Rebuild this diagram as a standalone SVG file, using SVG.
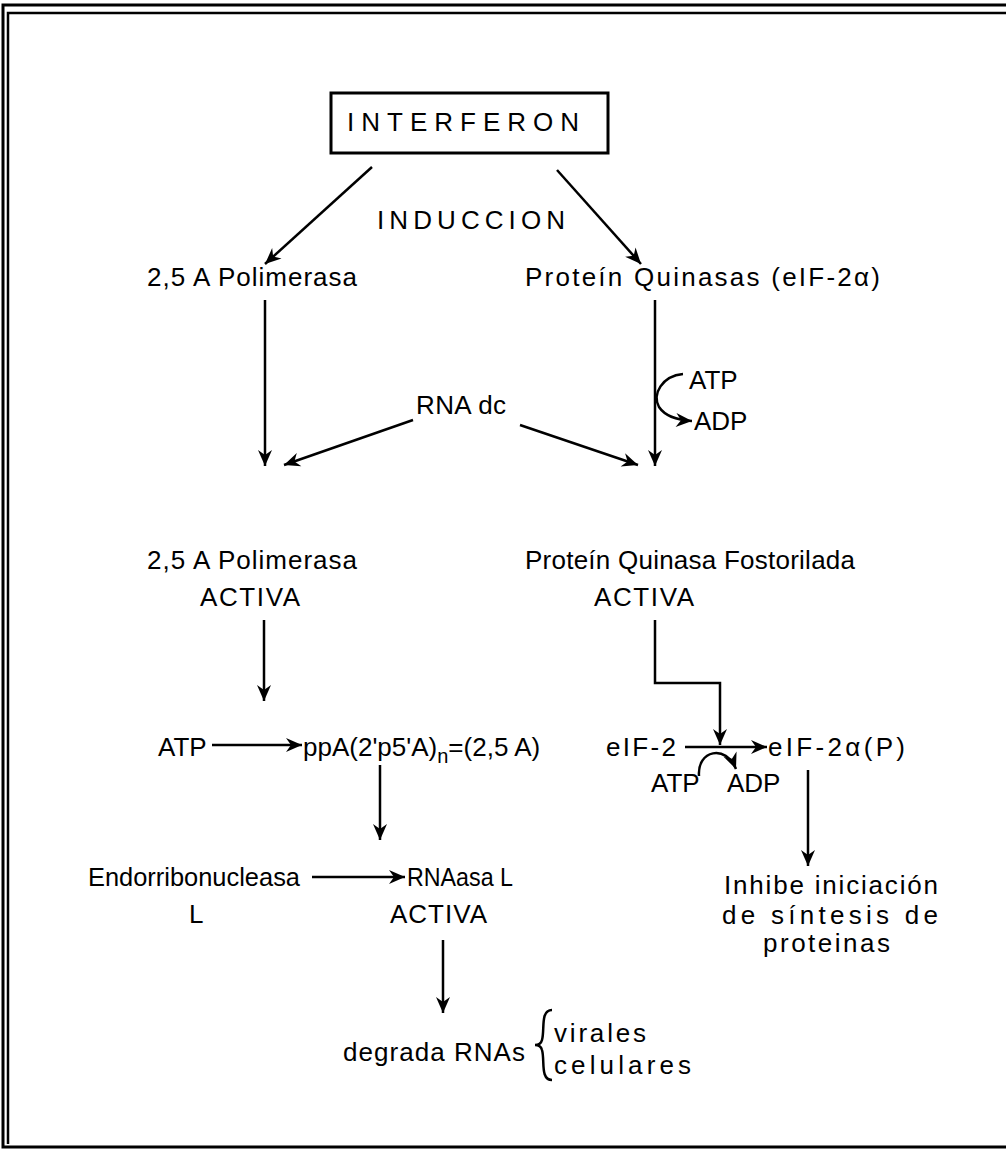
<svg xmlns="http://www.w3.org/2000/svg" width="1006" height="1152" viewBox="0 0 1006 1152">
<style>
.t{font-family:"Liberation Sans","DejaVu Sans",sans-serif;font-size:26px;fill:#000}
.a{fill:none;stroke:#000;stroke-width:2.5;marker-end:url(#ah)}
.c{fill:none;stroke:#000;stroke-width:2.5}
.b{fill:none;stroke:#000}
</style>
<defs>
<marker id="ah" markerUnits="userSpaceOnUse" markerWidth="20" markerHeight="16" viewBox="0 0 20 16" refX="18" refY="8" orient="auto">
<path d="M2,1 L18,8 L2,15 L7,8 z" fill="#000"/>
</marker>
</defs>
<rect width="1006" height="1152" fill="#fff"/>
<g id="frame">
<path class="b" stroke-width="3" d="M1006,5 H3 V1147 H1006"/>
<path class="b" stroke-width="2.5" d="M1006,13 H8 V1144"/>
</g>
<g id="connectors">
<line class="a" x1="372" y1="167" x2="265" y2="264"/>
<line class="a" x1="557" y1="170" x2="641" y2="264"/>
<line class="a" x1="265" y1="300" x2="265" y2="466"/>
<line class="a" x1="655" y1="300" x2="655" y2="466"/>
<path class="a" d="M683,374 C662,376 652,394 659,407 C665,416 676,420 692,421"/>
<line class="a" x1="413" y1="420" x2="284" y2="465"/>
<line class="a" x1="520" y1="425" x2="638" y2="465"/>
<line class="a" x1="264" y1="620" x2="264" y2="701"/>
<path class="a" d="M655,620 V683 H720 V745"/>
<line class="a" x1="212" y1="745" x2="302" y2="745"/>
<line class="a" x1="380" y1="765" x2="380" y2="840"/>
<line class="a" x1="312" y1="877" x2="405" y2="877"/>
<line class="a" x1="443" y1="940" x2="443" y2="1013"/>
<line class="a" x1="685" y1="747" x2="767" y2="747"/>
<path class="a" d="M699,776 C697,750 726,744 736,769"/>
<line class="a" x1="808" y1="770" x2="808" y2="866"/>
<path class="c" d="M552,1010 C540,1010 545,1030 542,1040 C541,1044 538,1045 535,1045 C538,1045 541,1046 542,1050 C545,1060 540,1080 552,1080"/>
</g>
<g id="interferon">
<rect x="331" y="93" width="277" height="60" fill="none" stroke="#000" stroke-width="3"/>
<text class="t" x="347" y="131" font-size="23" textLength="232" lengthAdjust="spacing">INTERFERON</text>
</g>
<g id="induccion"><text class="t" x="377" y="229" font-size="24" textLength="188" lengthAdjust="spacing">INDUCCION</text></g>
<g id="polimerasa"><text class="t" x="147" y="286" textLength="210" lengthAdjust="spacing">2,5 A Polimerasa</text></g>
<g id="quinasas"><text class="t" x="525" y="286" textLength="355" lengthAdjust="spacing">Proteín Quinasas (eIF-2α)</text></g>
<g id="atp-adp-1">
<text class="t" x="689" y="389">ATP</text>
<text class="t" x="694" y="430">ADP</text>
</g>
<g id="rnadc"><text class="t" x="416" y="414" textLength="90" lengthAdjust="spacing">RNA dc</text></g>
<g id="polimerasa-activa">
<text class="t" x="147" y="569" textLength="210" lengthAdjust="spacing">2,5 A Polimerasa</text>
<text class="t" x="200" y="606" textLength="100" lengthAdjust="spacing">ACTIVA</text>
</g>
<g id="quinasa-fosforilada">
<text class="t" x="525" y="569" textLength="330" lengthAdjust="spacing">Proteín Quinasa Fostorilada</text>
<text class="t" x="594" y="606" textLength="100" lengthAdjust="spacing">ACTIVA</text>
</g>
<g id="atp-2"><text class="t" x="158" y="756">ATP</text></g>
<g id="ppa"><text class="t" x="303" y="756">ppA(2'p5'A)<tspan font-size="20" dy="7">n</tspan><tspan dy="-7">=(2,5 A)</tspan></text></g>
<g id="endorribonucleasa">
<text class="t" x="88" y="886" textLength="212" lengthAdjust="spacingAndGlyphs">Endorribonucleasa</text>
<text class="t" x="189" y="923">L</text>
</g>
<g id="rnaasa">
<text class="t" x="407" y="886" textLength="106" lengthAdjust="spacingAndGlyphs">RNAasa L</text>
<text class="t" x="390" y="923" textLength="97" lengthAdjust="spacing">ACTIVA</text>
</g>
<g id="degrada">
<text class="t" x="343" y="1061" textLength="182" lengthAdjust="spacing">degrada RNAs</text>
<text class="t" x="554" y="1042" textLength="92" lengthAdjust="spacing">virales</text>
<text class="t" x="554" y="1074" textLength="137" lengthAdjust="spacing">celulares</text>
</g>
<g id="eif2"><text class="t" x="606" y="756" textLength="70" lengthAdjust="spacing">eIF-2</text></g>
<g id="eif2p"><text class="t" x="768" y="756" textLength="137" lengthAdjust="spacing">eIF-2α(P)</text></g>
<g id="atp-adp-3">
<text class="t" x="651" y="792">ATP</text>
<text class="t" x="727" y="792">ADP</text>
</g>
<g id="inhibe">
<text class="t" x="724" y="894" textLength="214" lengthAdjust="spacing">Inhibe iniciación</text>
<text class="t" x="722" y="924" textLength="216" lengthAdjust="spacing">de síntesis  de</text>
<text class="t" x="763" y="952" textLength="127" lengthAdjust="spacing">proteinas</text>
</g>
</svg>
